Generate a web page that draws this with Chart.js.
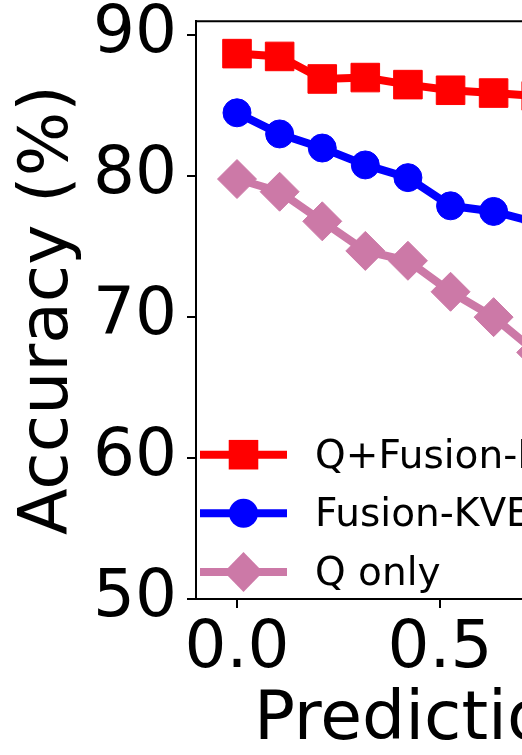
<!DOCTYPE html>
<html>
<head>
<meta charset="utf-8">
<script src="https://cdn.jsdelivr.net/npm/chart.js@4.4.1/dist/chart.umd.min.js"></script>
<style>
  html, body { margin: 0; padding: 0; background: #fff; overflow: hidden; }
  #wrap { position: relative; width: 522px; height: 755px; overflow: hidden; }
</style>
</head>
<body>
<div id="wrap"><canvas id="accChart"></canvas></div>
<script>
// --- data ---
const predRatio  = [0, 0.105, 0.21, 0.316, 0.421, 0.526, 0.632, 0.737];
const qFusion    = [88.7, 88.5, 86.9, 87.0, 86.5, 86.1, 85.9, 85.7];
const fusionOnly = [84.5, 83.0, 82.0, 80.8, 79.9, 77.9, 77.5, 76.7];
const qOnly      = [79.8, 78.9, 76.8, 74.7, 74.0, 71.8, 70.0, 67.5];
const seriesNames = ['Q+Fusion-KVE', 'Fusion-KVE', 'Q only'];
const yTicks = [50, 60, 70, 80, 90];
const xTicks = [0, 0.5, 1.0, 1.5, 2.0];

const FONT = "'DejaVu Sans', sans-serif";
const xTitle = 'Prediction ratio';

// plot frame (the figure is cut off on the right, so the canvas is wider than the page)
const plotLeft = 196, plotTop = 18, plotBottom = 599;
const pxPerUnit = 406, xMin = -0.101;
const mctx = document.createElement('canvas').getContext('2d');
mctx.font = '68px ' + FONT;
const titleW = mctx.measureText(xTitle).width;
const plotRight = Math.round(2 * (254 + titleW / 2) - plotLeft);
const canvasW = plotRight + 100;

const canvas = document.getElementById('accChart');
canvas.width = canvasW;
canvas.height = 755;
canvas.style.width = canvasW + 'px';
canvas.style.height = '755px';

const colors = ['#ff0000', '#0000ff', '#cc79a7'];
const styles = ['rect', 'circle', 'rectRot'];
const radii = [20.2, 14, 19.5];

function pts(arr) { return predRatio.map((x, i) => ({ x: x, y: arr[i] })); }

// top/right spines
const framePlugin = {
  id: 'frame',
  afterDraw(chart) {
    const { ctx, chartArea: a } = chart;
    ctx.save();
    ctx.strokeStyle = '#000';
    ctx.lineWidth = 2;
    ctx.beginPath();
    ctx.moveTo(a.left, a.top);
    ctx.lineTo(a.right, a.top);
    ctx.lineTo(a.right, a.bottom);
    ctx.stroke();
    ctx.restore();
  }
};

// matplotlib-style legend: line with marker in the middle
const legendPlugin = {
  id: 'mplLegend',
  afterDraw(chart) {
    const ctx = chart.ctx;
    const rows = [454.7, 513.3, 572];
    ctx.save();
    chart.data.datasets.forEach((ds, i) => {
      const y = rows[i];
      ctx.strokeStyle = ds.borderColor;
      ctx.lineWidth = 8;
      ctx.beginPath();
      ctx.moveTo(200, y);
      ctx.lineTo(287, y);
      ctx.stroke();
      const cx = 243.5, r = radii[i];
      ctx.fillStyle = ds.borderColor;
      ctx.beginPath();
      if (styles[i] === 'rect') {
        const h = r * Math.SQRT1_2 + 0.5;
        ctx.rect(cx - h, y - h, 2 * h, 2 * h);
      } else if (styles[i] === 'circle') {
        ctx.arc(cx, y, r + 0.5, 0, Math.PI * 2);
      } else {
        ctx.moveTo(cx - r, y); ctx.lineTo(cx, y - r - 0.5);
        ctx.lineTo(cx + r, y); ctx.lineTo(cx, y + r + 0.5);
        ctx.closePath();
      }
      ctx.fill();
      ctx.fillStyle = '#000';
      ctx.font = '39px ' + FONT;
      ctx.textBaseline = 'alphabetic';
      ctx.fillText(ds.label, 315, y + 13);
    });
    ctx.restore();
  }
};

new Chart(canvas.getContext('2d'), {
  type: 'line',
  data: {
    datasets: [qFusion, fusionOnly, qOnly].map((arr, i) => ({
      label: seriesNames[i],
      data: pts(arr),
      borderColor: colors[i],
      backgroundColor: colors[i],
      borderWidth: 8,
      pointStyle: styles[i],
      pointRadius: radii[i],
      pointBorderWidth: 1,
      pointBorderColor: colors[i],
      pointBackgroundColor: colors[i],
      tension: 0,
      fill: false
    }))
  },
  options: {
    responsive: false,
    animation: false,
    devicePixelRatio: 1,
    layout: { padding: { top: plotTop, right: canvasW - plotRight, left: 0, bottom: 0 } },
    plugins: { legend: { display: false }, tooltip: { enabled: false } },
    scales: {
      x: {
        type: 'linear',
        min: xMin,
        max: xMin + (plotRight - plotLeft) / pxPerUnit,
        afterBuildTicks: s => { s.ticks = xTicks.filter(v => v <= s.max).map(v => ({ value: v })); },
        afterFit: s => { s.height = 755 - plotBottom; s.paddingLeft = 0; s.paddingRight = 0; },
        grid: { drawOnChartArea: false, drawTicks: true, tickLength: 9, lineWidth: 2, color: '#000' },
        border: { display: true, color: '#000', width: 2 },
        ticks: { font: { family: FONT, size: 66 }, color: '#000', padding: 2, maxRotation: 0,
                 callback: v => Number(v).toFixed(1) },
        title: { display: true, text: xTitle, color: '#000',
                 font: { family: FONT, size: 68, lineHeight: 1 }, padding: { top: 0, bottom: 0 } }
      },
      y: {
        min: 50,
        max: 91,
        afterBuildTicks: s => { s.ticks = yTicks.map(v => ({ value: v })); },
        afterFit: s => { s.width = plotLeft; s.paddingTop = 0; s.paddingBottom = 0; },
        grid: { drawOnChartArea: false, drawTicks: true, tickLength: 9, lineWidth: 2, color: '#000' },
        border: { display: true, color: '#000', width: 2 },
        ticks: { font: { family: FONT, size: 66 }, color: '#000', padding: 10, callback: v => v },
        title: { display: true, text: 'Accuracy (%)', color: '#000',
                 font: { family: FONT, size: 68 }, padding: { top: 9, bottom: 0 } }
      }
    }
  },
  plugins: [framePlugin, legendPlugin]
});
</script>
</body>
</html>
